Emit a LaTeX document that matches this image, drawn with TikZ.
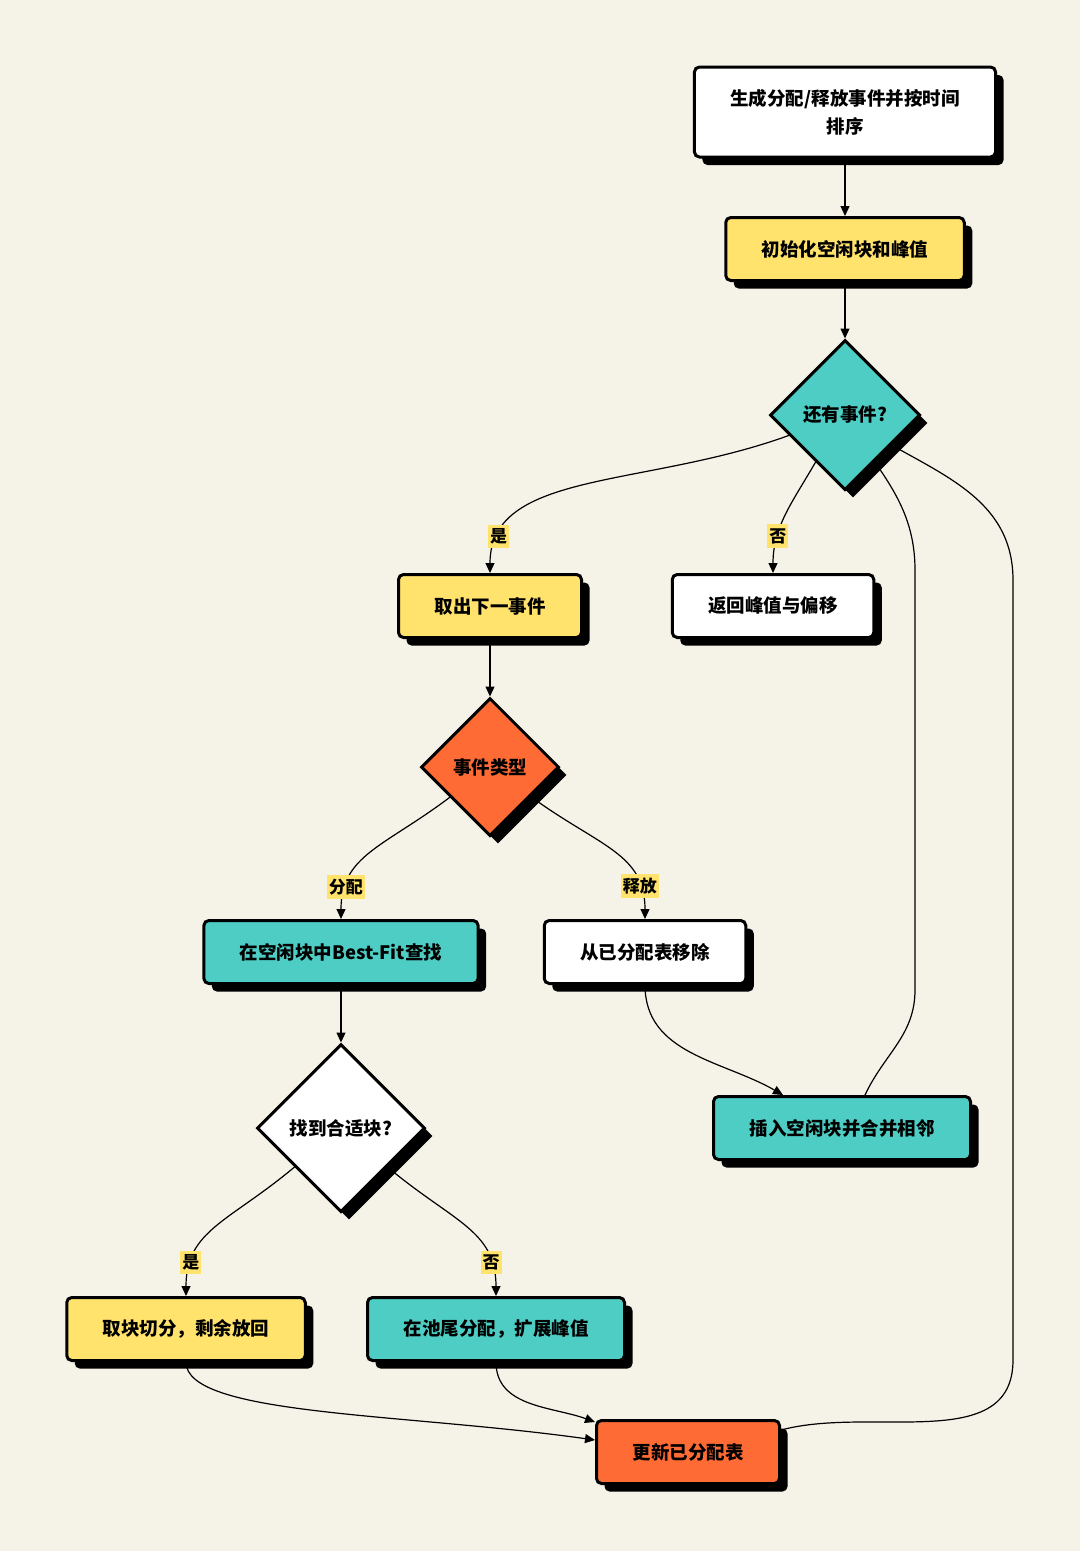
\documentclass[tikz,border=0pt]{standalone}
\usepackage{fontspec}
\setmainfont{Noto Sans CJK SC}
\usetikzlibrary{shapes.geometric,shadows,arrows.meta,backgrounds}
\definecolor{bgcol}{HTML}{F5F2E8}
\definecolor{ylw}{HTML}{FFE36D}
\definecolor{tl}{HTML}{4ECDC4}
\definecolor{org}{HTML}{FF6B35}

\begin{document}
\begin{tikzpicture}[x=1pt,y=1pt,
    box/.style={draw=black,line width=3pt,rounded corners=5pt,inner xsep=36pt,minimum height=63pt,
      font=\fontsize{18.5}{28}\selectfont\bfseries,align=center,
      drop shadow={shadow xshift=8pt,shadow yshift=-8pt,fill=black,opacity=1}},
    dia/.style={box,diamond,sharp corners,inner sep=0pt,aspect=1},
    lbl/.style={fill=ylw,inner xsep=2pt,inner ysep=4pt,font=\fontsize{17}{19}\selectfont\bfseries},
    arr/.style={line width=1.2pt,-{Triangle[length=10pt,width=9pt]}}]
    \useasboundingbox (0,0) rectangle (1080,-1551);
    \node[box,fill=white,minimum height=90pt] (gen) at (845,-112) {生成分配/释放事件并按时间\\排序};
    \node[box,fill=ylw] (init) at (845,-249) {初始化空闲块和峰值};
    \node[dia,fill=tl,minimum size=150pt] (more) at (845,-415) {还有事件?};
    \node[box,fill=ylw] (next) at (490,-606) {取出下一事件};
    \node[box,fill=white] (ret) at (773,-606) {返回峰值与偏移};
    \node[dia,fill=org,minimum size=138pt] (kind) at (490,-767) {事件类型};
    \node[box,fill=tl] (fit) at (341,-952) {在空闲块中Best-Fit查找};
    \node[box,fill=white] (rm) at (645,-952) {从已分配表移除};
    \node[dia,fill=white,minimum size=168pt] (found) at (341,-1128) {找到合适块?};
    \node[box,fill=tl] (ins) at (842,-1128) {插入空闲块并合并相邻};
    \node[box,fill=ylw] (cut) at (186,-1329) {取块切分，剩余放回};
    \node[box,fill=tl] (tail) at (496,-1329) {在池尾分配，扩展峰值};
    \node[box,fill=org] (upd) at (688,-1452) {更新已分配表};
    \coordinate (r1) at (915,-990);
    \coordinate (r1b) at (915,-570);
    \coordinate (r2) at (1013,-1360);
    \coordinate (r2b) at (1013,-580);

    \draw[arr] (gen) -- (init);
    \draw[arr] (init) -- (more);
    \draw[arr] (more.200) to[out=200,in=90,out looseness=1.2,in looseness=0.8] node[lbl,pos=0.86] {是} (next.north);
    \draw[arr] (more.238) to[out=240,in=90] node[lbl,pos=0.7] {否} (ret.north);
    \draw[arr] (next) -- (kind);
    \draw[arr] (kind.217) to[out=217,in=90,out looseness=1.3] node[lbl,pos=0.8] {分配} (fit.north);
    \draw[arr] (kind.324) to[out=324,in=90,out looseness=1.3] node[lbl,pos=0.8] {释放} (rm.north);
    \draw[arr] (fit) -- (found);
    \draw[arr] (rm.south) to[out=270,in=150] ([xshift=-59pt]ins.north);
    \draw[arr] (found.220) to[out=220,in=90,out looseness=1.3] node[lbl,pos=0.8] {是} (cut.north);
    \draw[arr] (found.320) to[out=320,in=90,out looseness=1.3] node[lbl,pos=0.8] {否} (tail.north);
    \draw[arr] (cut.south) to[out=270,in=172,out looseness=0.33,in looseness=1.2] ([yshift=12pt]upd.west);
    \draw[arr] (tail.south) to[out=270,in=160] ([yshift=-3pt]upd.north west);

    \begin{pgfonlayer}{background}
    \fill[bgcol] (0,0) rectangle (1080,-1551);
    \draw[arr] ([xshift=23pt]ins.north) to[out=65,in=270] (r1) -- (r1b) to[out=90,in=300] (more.center);
    \draw[arr] ([yshift=-11pt]upd.north east) to[out=15,in=270] (r2) -- (r2b) to[out=90,in=-36] (more.center);
    \end{pgfonlayer}
\end{tikzpicture}
\end{document}
